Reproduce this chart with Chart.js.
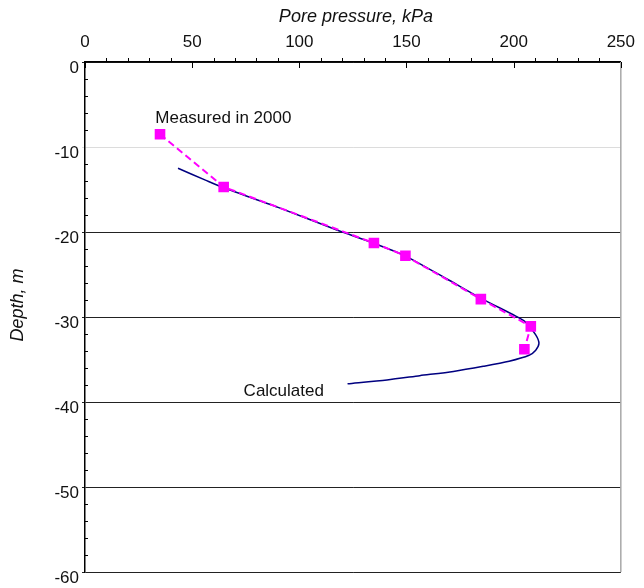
<!DOCTYPE html>
<html>
<head>
<meta charset="utf-8">
<script src="https://cdn.jsdelivr.net/npm/chart.js@4.4.1/dist/chart.umd.min.js"></script>
<style>
  html, body { margin: 0; padding: 0; background: #fff; }
  canvas { display: block; }
</style>
</head>
<body>
<canvas id="c" width="644" height="588"></canvas>
<script>
// Pore pressure (kPa) against depth (m)
const measuredPressure = [35.0, 64.7, 134.8, 149.5, 184.7, 208.0, 205.0];
const measuredDepth    = [-8.5, -14.7, -21.3, -22.8, -27.9, -31.1, -33.8];

const calcPressure = [43.4, 56.2, 64.7, 90.1, 117.8, 134.5, 149.3, 168.7, 184.8, 201.0,
                      205.6, 210.3, 211.8, 210.3, 207.2, 197.9, 185.8, 171.9, 156.2, 140.9, 122.5];
const calcDepth    = [-12.5, -13.9, -14.8, -17.1, -19.8, -21.3, -22.8, -25.5, -27.8, -29.9,
                      -30.6, -32.1, -33.1, -33.9, -34.5, -35.2, -35.8, -36.4, -36.9, -37.4, -37.85];

const pressureTicks = [0, 50, 100, 150, 200, 250];
const depthTicks = [0, -10, -20, -30, -40, -50, -60];

const xTitle = 'Pore pressure, kPa';
const yTitle = 'Depth, m';
const measuredLabel = { text: 'Measured in 2000', x: 32.8, y: -7.2 };
const calcLabel = { text: 'Calculated', x: 74.0, y: -39.3 };

const FONT = '"Liberation Sans", Arial, Helvetica, sans-serif';

const toPoints = (xs, ys) => xs.map((x, i) => ({ x, y: ys[i] }));

// Minor ticks, right frame edge, axis titles and curve labels
const decorations = {
  id: 'decorations',
  beforeDatasetsDraw(chart) {
    const { ctx, chartArea: a, scales: { x, y } } = chart;
    ctx.save();
    // right frame edge
    ctx.strokeStyle = '#a8a8a8';
    ctx.lineWidth = 1.5;
    ctx.beginPath();
    ctx.moveTo(a.right, a.top);
    ctx.lineTo(a.right, a.bottom);
    ctx.stroke();

    // ticks along the top pressure axis
    ctx.strokeStyle = '#000';
    ctx.lineWidth = 1;
    for (let v = 0; v <= 250; v += 10) {
      const px = Math.round(x.getPixelForValue(v)) + 0.5;
      ctx.beginPath();
      if (v % 50 === 0) {
        ctx.moveTo(px, a.top);
        ctx.lineTo(px, a.top + 6);
      } else {
        ctx.moveTo(px, a.top);
        ctx.lineTo(px, a.top - 4);
      }
      ctx.stroke();
    }
    // minor ticks inside the depth axis
    for (let v = -2; v > -60; v -= 2) {
      if (v % 10 === 0) continue;
      const py = Math.round(y.getPixelForValue(v)) + 0.5;
      ctx.beginPath();
      ctx.moveTo(a.left, py);
      ctx.lineTo(a.left + 3, py);
      ctx.stroke();
    }
    ctx.restore();
  },
  afterDraw(chart) {
    const { ctx, chartArea: a, scales: { x, y } } = chart;
    ctx.save();
    ctx.fillStyle = '#111';
    ctx.textBaseline = 'alphabetic';

    ctx.font = 'italic 18px ' + FONT;
    ctx.textAlign = 'center';
    ctx.fillText(xTitle, (a.left + a.right) / 2 + 3, 22);

    ctx.save();
    ctx.translate(23, 305);
    ctx.rotate(-Math.PI / 2);
    ctx.fillText(yTitle, 0, 0);
    ctx.restore();

    ctx.font = '17px ' + FONT;
    ctx.textAlign = 'left';
    ctx.fillText(measuredLabel.text, x.getPixelForValue(measuredLabel.x), y.getPixelForValue(measuredLabel.y));
    ctx.fillText(calcLabel.text, x.getPixelForValue(calcLabel.x), y.getPixelForValue(calcLabel.y));
    ctx.restore();
  }
};

new Chart(document.getElementById('c'), {
  type: 'scatter',
  data: {
    datasets: [
      {
        label: 'Measured in 2000',
        data: toPoints(measuredPressure, measuredDepth),
        showLine: true,
        borderColor: '#ff00ff',
        borderWidth: 2,
        borderDash: [7, 4],
        tension: 0,
        pointStyle: 'rect',
        pointRadius: 7.5,
        pointBackgroundColor: '#ff00ff',
        pointBorderWidth: 0
      },
      {
        label: 'Calculated',
        data: toPoints(calcPressure, calcDepth),
        showLine: true,
        borderColor: '#000080',
        borderWidth: 1.5,
        tension: 0.25,
        pointRadius: 0
      }
    ]
  },
  options: {
    responsive: false,
    animation: false,
    devicePixelRatio: 1,
    layout: { padding: { left: 0, top: 0, right: 18, bottom: 16 } },
    plugins: { legend: { display: false }, tooltip: { enabled: false } },
    scales: {
      x: {
        type: 'linear',
        position: 'top',
        min: 0,
        max: 250,
        afterFit(s) { s.height = 62; },
        afterBuildTicks(s) { s.ticks = pressureTicks.map(v => ({ value: v })); },
        ticks: { padding: 9, maxRotation: 0, color: '#111', font: { family: FONT, size: 17 } },
        grid: { display: false, drawTicks: false },
        border: { display: true, color: '#000', width: 1.5 }
      },
      y: {
        type: 'linear',
        min: -60,
        max: 0,
        afterFit(s) { s.width = 85; },
        afterBuildTicks(s) { s.ticks = depthTicks.map(v => ({ value: v })); },
        ticks: { padding: 3, labelOffset: 6, color: '#111', font: { family: FONT, size: 17 } },
        grid: {
          color: c => (c.tick && c.tick.value === -10) ? '#dcdcdc' : '#222',
          lineWidth: 1,
          drawTicks: true,
          tickLength: 3
        },
        border: { display: true, color: '#000', width: 1.5 }
      }
    }
  },
  plugins: [decorations]
});
</script>
</body>
</html>
